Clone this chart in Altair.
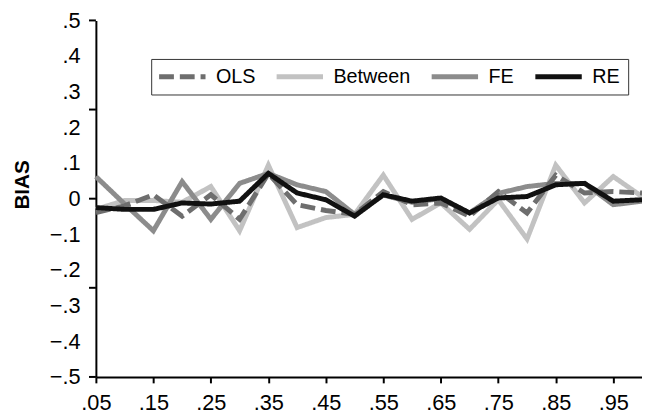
import altair as alt
import pandas as pd

# x positions (quantiles)
x_vals = [0.05, 0.10, 0.15, 0.20, 0.25, 0.30, 0.35, 0.40, 0.45, 0.50,
          0.55, 0.60, 0.65, 0.70, 0.75, 0.80, 0.85, 0.90, 0.95, 1.00]

ols = [-0.039, -0.020, 0.011, -0.049, 0.011, -0.058, 0.070, -0.017, -0.033, -0.044,
       0.020, -0.017, -0.012, -0.049, 0.020, -0.040, 0.066, 0.016, 0.020, 0.016]
between = [-0.030, -0.005, -0.005, -0.010, 0.034, -0.090, 0.094, -0.081, -0.053, -0.044,
           0.066, -0.058, -0.012, -0.086, -0.003, -0.113, 0.094, -0.012, 0.062, 0.006]
fe = [0.062, -0.015, -0.090, 0.048, -0.058, 0.043, 0.071, 0.039, 0.020, -0.044,
      0.010, -0.010, 0.000, -0.040, 0.015, 0.034, 0.043, 0.043, -0.017, -0.007]
re_ = [-0.025, -0.030, -0.030, -0.012, -0.015, -0.007, 0.071, 0.016, -0.003, -0.049,
       0.011, -0.007, 0.002, -0.040, 0.002, 0.006, 0.039, 0.043, -0.007, -0.003]

series_names = ["OLS", "Between", "FE", "RE"]
series_colors = ["#6e6e6e", "#c2c2c2", "#8c8c8c", "#111111"]
series_dashes = [[15, 6], [1, 0], [1, 0], [1, 0]]
draw_order = ["Between", "FE", "OLS", "RE"]

x_label_vals = [0.05, 0.15, 0.25, 0.35, 0.45, 0.55, 0.65, 0.75, 0.85, 0.95]
y_label_vals = [-0.5, -0.4, -0.3, -0.2, -0.1, 0.0, 0.1, 0.2, 0.3, 0.4, 0.5]
y_tick_vals = [-0.5, -0.25, 0.0, 0.25, 0.5]

rows = []
for name, vals in zip(series_names, [ols, between, fe, re_]):
    for xv, yv in zip(x_vals, vals):
        rows.append({"x": xv, "bias": yv, "series": name})
df = pd.DataFrame(rows)
ticks_df = pd.DataFrame({"bias": y_tick_vals})

FONT = "Liberation Sans"
LABEL_SIZE = 22

color_scale = alt.Scale(domain=series_names, range=series_colors)
dash_scale = alt.Scale(domain=series_names, range=series_dashes)

x_enc = alt.X(
    "x:Q",
    scale=alt.Scale(domain=[0.05, 1.0], nice=False, zero=False),
    axis=alt.Axis(
        values=x_label_vals,
        labelExpr="replace(format(datum.value, '.2f'), '0.', '.')",
        title=None, grid=False, ticks=True, tickSize=6, tickWidth=2,
        tickColor="black", domainColor="black", domainWidth=2,
        labelFont=FONT, labelFontSize=LABEL_SIZE, labelColor="black",
        labelPadding=10, labelFlush=False, labelOverlap=False,
    ),
)

y_enc = alt.Y(
    "bias:Q",
    scale=alt.Scale(domain=[-0.5, 0.5], nice=False, zero=False),
    axis=alt.Axis(
        values=y_label_vals,
        labelExpr="datum.value == 0 ? '0' : (datum.value < 0 ? '\u2212' : '') + replace(format(abs(datum.value), '.1f'), '0.', '.')",
        ticks=False, tickSize=0, grid=False,
        domainColor="black", domainWidth=2,
        labelFont=FONT, labelFontSize=LABEL_SIZE, labelColor="black",
        labelPadding=16, labelOverlap=False, labelFlush=False,
        title="BIAS", titleFont=FONT, titleFontSize=21, titleFontWeight="bold",
        titleColor="black", titleAngle=270, titleX=-74, titleY=166,
        titleAlign="center", titleBaseline="middle",
    ),
)

layers = []
for name in draw_order:
    layer = (
        alt.Chart(df)
        .transform_filter(alt.datum.series == name)
        .mark_line(strokeWidth=5, strokeJoin="miter", strokeCap="butt")
        .encode(
            x=x_enc,
            y=y_enc,
            color=alt.Color("series:N", scale=color_scale, legend=alt.Legend(title=None)),
            strokeDash=alt.StrokeDash("series:N", scale=dash_scale, legend=alt.Legend(title=None)),
        )
    )
    layers.append(layer)

tick_layer = (
    alt.Chart(ticks_df)
    .mark_rule(color="black", strokeWidth=2)
    .encode(
        y=y_enc,
        x=alt.value(-7),
        x2=alt.value(0),
    )
)

chart = (
    alt.layer(*layers, tick_layer)
    .properties(
        width=553, height=361,
        padding={"left": 89, "top": 10, "right": 0, "bottom": 40},
        autosize=alt.AutoSizeParams(type="none"),
        background="white",
    )
    .configure_view(stroke=None)
    .configure_axis(labelFont=FONT, labelFontSize=LABEL_SIZE, labelColor="black")
    .configure_legend(
        orient="none", legendX=56, legendY=39, direction="horizontal",
        symbolType="M-3.133,0H3.133", symbolSize=225, symbolStrokeWidth=5,
        symbolOffset=13.5,
        labelFont=FONT, labelFontSize=20, labelColor="black",
        labelOffset=24, columnPadding=11, padding=8,
        strokeColor="#333333", fillColor="white",
    )
)

chart.save("out.html", embed_options={"renderer": "svg", "actions": False})
